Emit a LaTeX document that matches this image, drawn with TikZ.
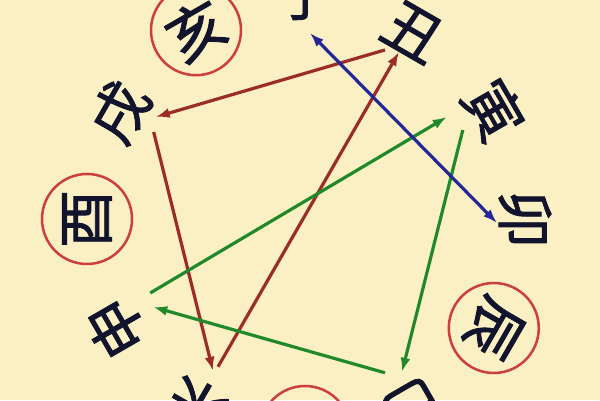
\documentclass[tikz,border=0pt]{standalone}
\usepackage{fontspec}
\newfontfamily\cjk[FakeBold=1.5]{Noto Sans CJK SC}
\usetikzlibrary{arrows.meta,calc}
\definecolor{bg}{RGB}{250,240,195}
\definecolor{ink}{RGB}{18,20,45}
\definecolor{ringred}{RGB}{205,62,62}
\definecolor{brn}{RGB}{155,45,40}
\definecolor{grn}{RGB}{32,138,42}
\definecolor{blu}{RGB}{35,40,150}
\begin{document}
\begin{tikzpicture}[x=1pt,y=1pt,
  ch/.style={font=\cjk\fontsize{58}{58}\selectfont, text=ink, inner sep=0pt},
  ring/.style={circle, draw=ringred, line width=2.5pt, minimum size=90pt},
  brownarrow/.style={draw=brn, line width=3.2pt, -{Latex[length=14pt,width=10pt]}},
  greenarrow/.style={draw=grn, line width=3.2pt, -{Latex[length=14pt,width=10pt]}},
  bluearrow/.style={draw=blu, line width=3.2pt, {Latex[length=14pt,width=10pt]}-{Latex[length=14pt,width=10pt]}}]
\fill[bg] (0,0) rectangle (600,400);
\useasboundingbox (0,0) rectangle (600,400);
\coordinate (O) at (305,181);
\node[ch, rotate=0]            (zi)   at ($(O)+(90:224)$)   {子};
\node[ch, rotate=-30]          (chou) at ($(O)+(60:216)$)   {丑};
\node[ch, rotate=-60]          (yin)  at ($(O)+(30:218)$)   {寅};
\node[ch, rotate=-90]          (mao)  at ($(O)+(0:220)$)    {卯};
\node[ch, ring, rotate=-120]   (chen) at ($(O)+(-30:218)$)  {辰};
\node[ch, rotate=-150]         (si)   at ($(O)+(-60:218)$)  {巳};
\node[ch, ring, rotate=180]    (wu)   at ($(O)+(-90:212)$)  {午};
\node[ch, rotate=150]          (wei)  at ($(O)+(-120:218)$) {未};
\node[ch, rotate=120]          (shen) at ($(O)+(-150:218)$) {申};
\node[ch, ring, rotate=90]     (you)  at ($(O)+(180:218)$)  {酉};
\node[ch, rotate=60]           (xu)   at ($(O)+(150:214)$)  {戌};
\node[ch, ring, rotate=30]     (hai)  at ($(O)+(120:218)$)  {亥};
% brown triangle
\draw[brownarrow] ($(chou)+(-28,-18)$) -- ($(xu)+(36,-5)$);
\draw[brownarrow] ($(xu)+(34,-20)$) -- ($(wei)+(17,37)$);
\draw[brownarrow] ($(wei)+(22,41)$) -- ($(chou)+(-14,-20)$);
% green triangle
\draw[greenarrow] ($(shen)+(34,35)$) -- ($(yin)+(-47,-7)$);
\draw[greenarrow] ($(yin)+(-31,-20)$) -- ($(si)+(-12,36)$);
\draw[greenarrow] ($(si)+(-29,35)$) -- ($(shen)+(37,21)$);
% blue
\draw[bluearrow] ($(zi)+(5,-38)$) -- ($(mao)+(-28,-4)$);
\end{tikzpicture}
\end{document}
